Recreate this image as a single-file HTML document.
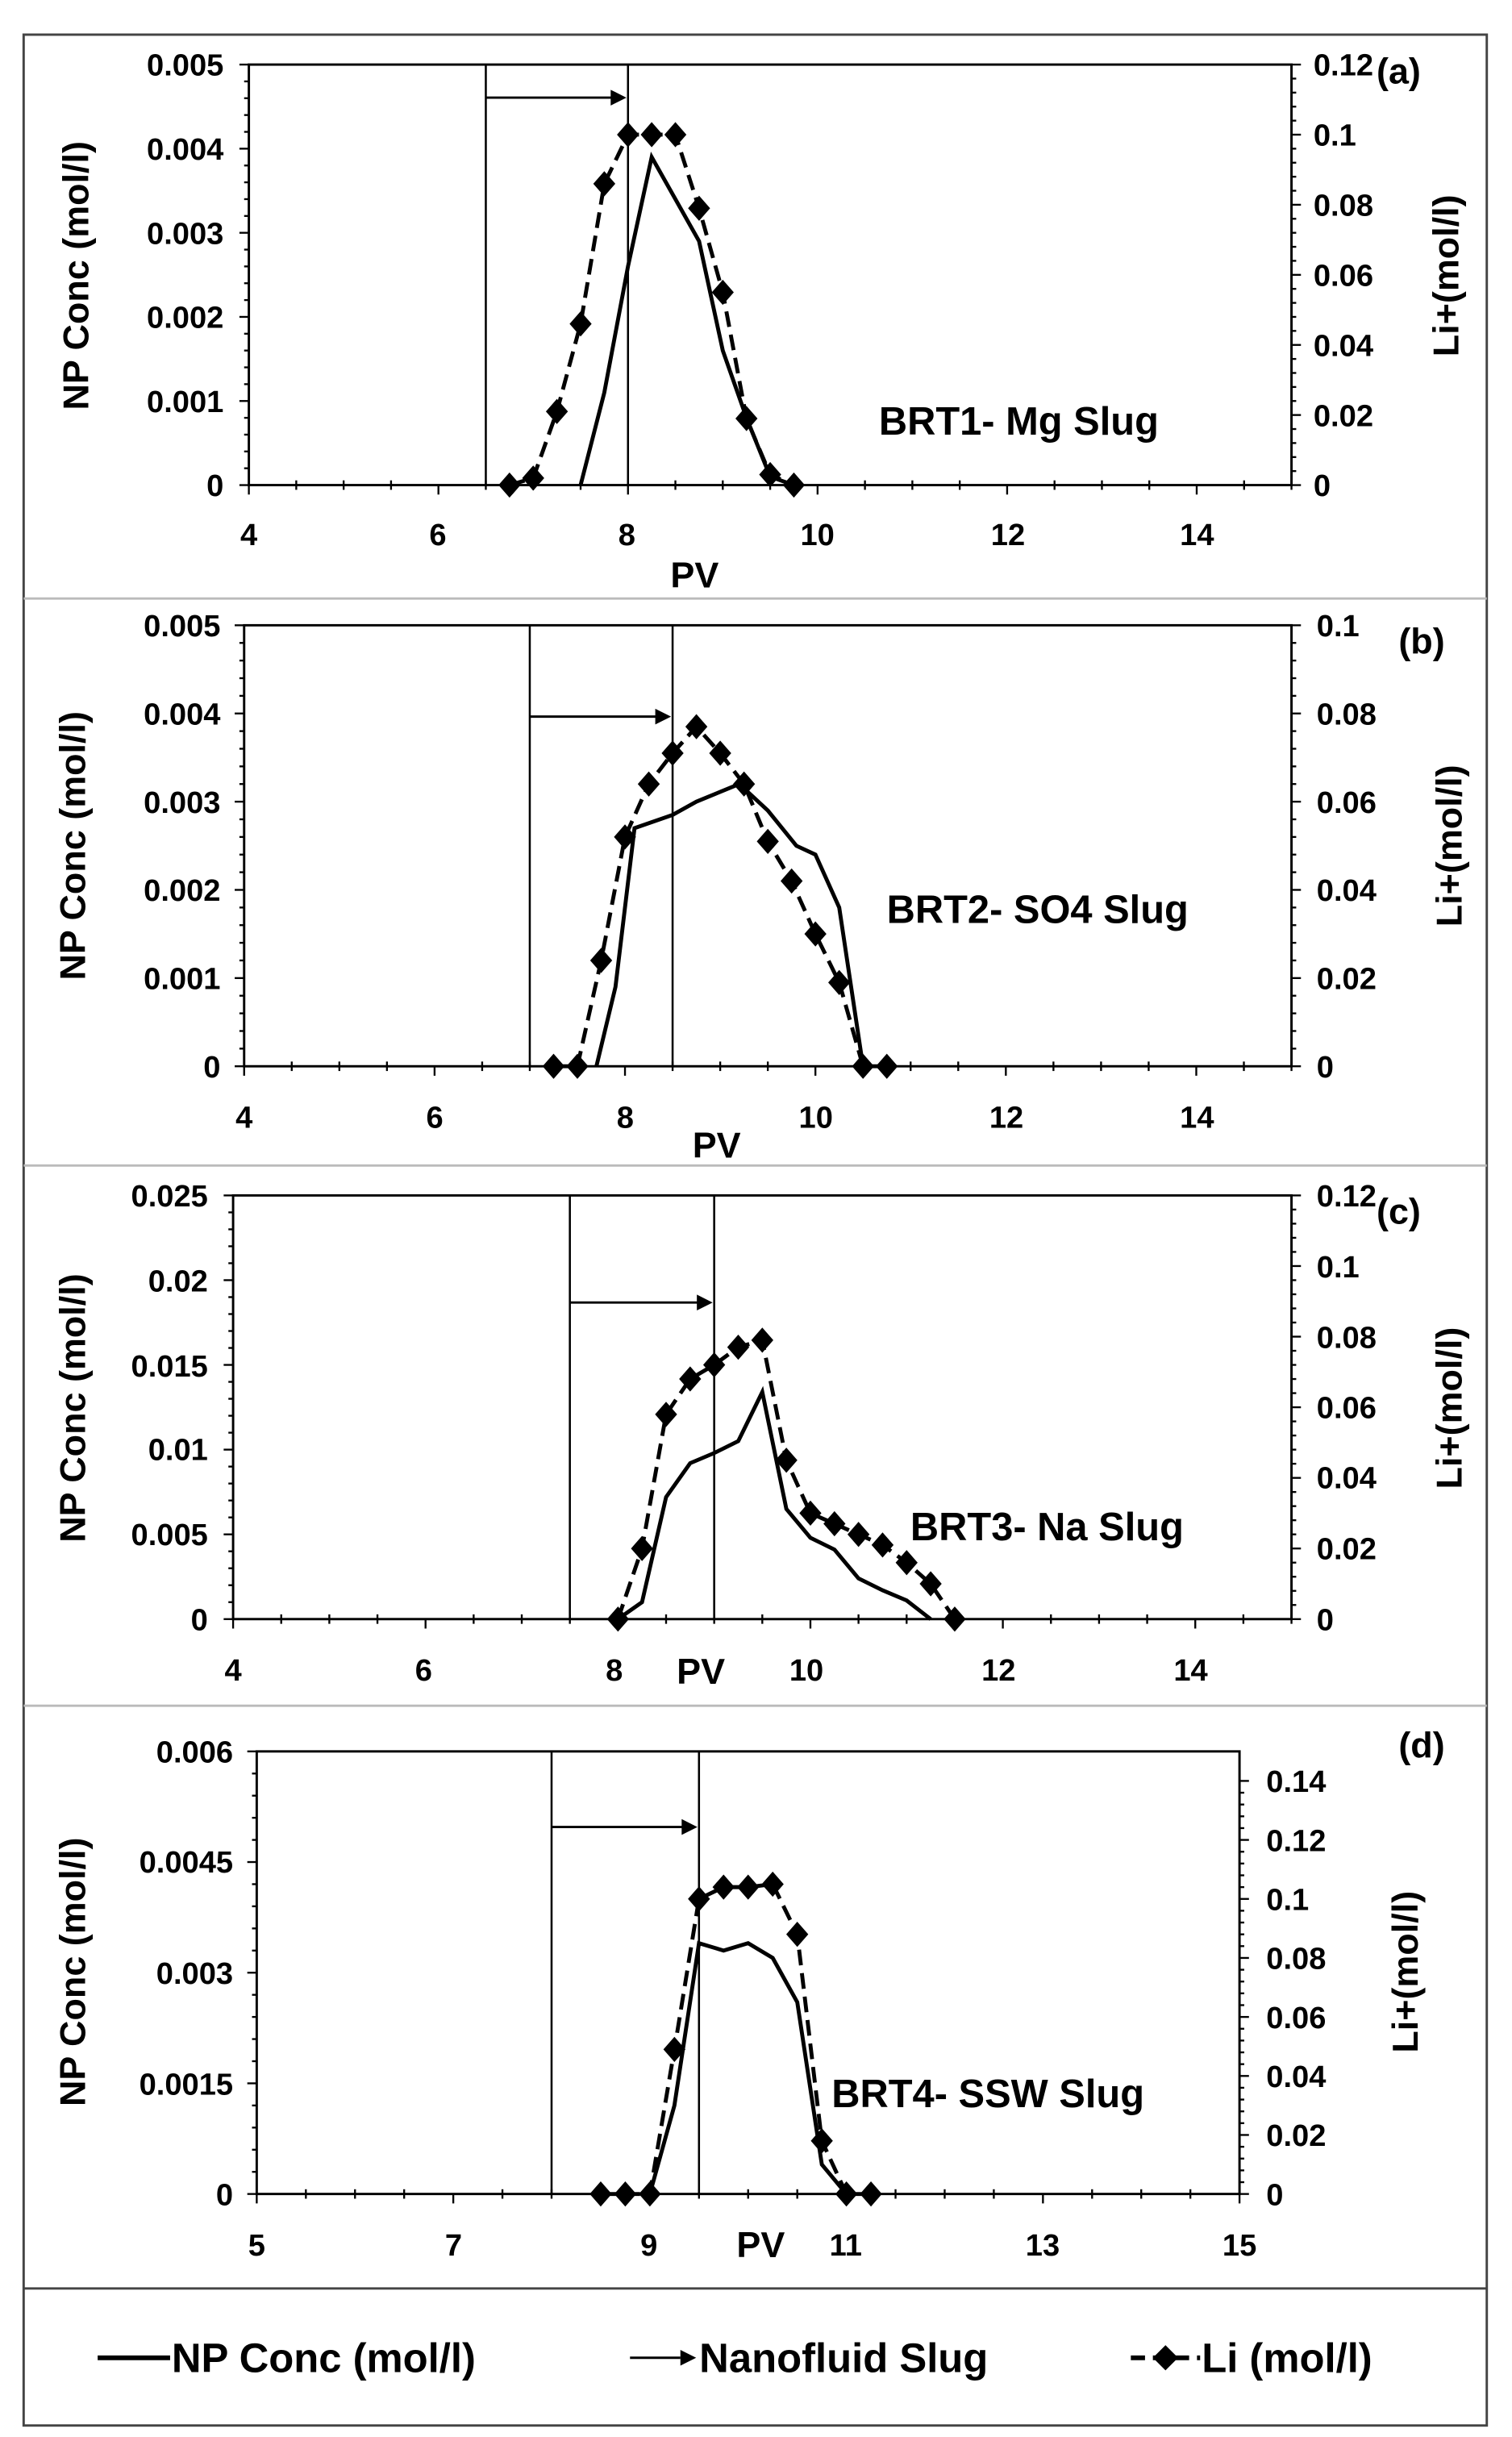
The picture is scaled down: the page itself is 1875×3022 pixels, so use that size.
<!DOCTYPE html>
<html><head><meta charset="utf-8"><style>
html,body{margin:0;padding:0;background:#fff}
svg{display:block}
text{font-family:"Liberation Sans",Arial,sans-serif;font-weight:bold;fill:#000}
.t{font-size:19.5px}
.ti{font-size:23px}
.lb{font-size:25px}
.lg{font-size:26px}
</style></head><body>
<svg id="s" width="1875" height="3022" viewBox="0 0 960 1547.3" xmlns="http://www.w3.org/2000/svg">
<rect x="0" y="0" width="960" height="1548" fill="#fff"/>
<rect x="15" y="22" width="929" height="1518" fill="none" stroke="#444" stroke-width="1.5"/>
<line x1="15" y1="380" x2="944" y2="380" stroke="#bbb" stroke-width="1.5"/>
<line x1="15" y1="740" x2="944" y2="740" stroke="#bbb" stroke-width="1.5"/>
<line x1="15" y1="1083" x2="944" y2="1083" stroke="#bbb" stroke-width="1.5"/>
<line x1="15" y1="1453" x2="944" y2="1453" stroke="#444" stroke-width="1.5"/>
<g id="g"></g>
<!-- Panel a text -->
<g class="t" text-anchor="end">
<text x="142" y="315">0</text><text x="142" y="261.6">0.001</text><text x="142" y="208.2">0.002</text><text x="142" y="154.8">0.003</text><text x="142" y="101.4">0.004</text><text x="142" y="48">0.005</text>
</g>
<g class="t" text-anchor="start">
<text x="834" y="315">0</text><text x="834" y="270.5">0.02</text><text x="834" y="226">0.04</text><text x="834" y="181.5">0.06</text><text x="834" y="137">0.08</text><text x="834" y="92.5">0.1</text><text x="834" y="48">0.12</text>
</g>
<g class="t" text-anchor="middle">
<text x="158" y="346">4</text><text x="278" y="346">6</text><text x="398" y="346">8</text><text x="519" y="346">10</text><text x="640" y="346">12</text><text x="760" y="346">14</text>
</g>
<text class="ti" x="441" y="373" text-anchor="middle">PV</text>
<text class="ti" x="0" y="0" text-anchor="middle" transform="translate(56,175) rotate(-90)">NP Conc (mol/l)</text>
<text class="ti" x="0" y="0" text-anchor="middle" transform="translate(926,175) rotate(-90)">Li+(mol/l)</text>
<text class="lb" x="558" y="276">BRT1- Mg Slug</text>
<text class="ti" x="874" y="53">(a)</text>
<!-- Panel b -->
<g class="t" text-anchor="end">
<text x="140" y="684">0</text><text x="140" y="628">0.001</text><text x="140" y="572">0.002</text><text x="140" y="516">0.003</text><text x="140" y="460">0.004</text><text x="140" y="404">0.005</text>
</g>
<g class="t" text-anchor="start">
<text x="836" y="684">0</text><text x="836" y="628">0.02</text><text x="836" y="572">0.04</text><text x="836" y="516">0.06</text><text x="836" y="460">0.08</text><text x="836" y="404">0.1</text>
</g>
<g class="t" text-anchor="middle">
<text x="155" y="716">4</text><text x="276" y="716">6</text><text x="397" y="716">8</text><text x="518" y="716">10</text><text x="639" y="716">12</text><text x="760" y="716">14</text>
</g>
<text class="ti" x="455" y="735" text-anchor="middle">PV</text>
<text class="ti" x="0" y="0" text-anchor="middle" transform="translate(54,537) rotate(-90)">NP Conc (mol/l)</text>
<text class="ti" x="0" y="0" text-anchor="middle" transform="translate(928,537) rotate(-90)">Li+(mol/l)</text>
<text class="lb" x="563" y="586">BRT2- SO4 Slug</text>
<text class="ti" x="888" y="415">(b)</text>
<!-- Panel c -->
<g class="t" text-anchor="end">
<text x="132" y="1035">0</text><text x="132" y="981">0.005</text><text x="132" y="927">0.01</text><text x="132" y="874">0.015</text><text x="132" y="820">0.02</text><text x="132" y="766">0.025</text>
</g>
<g class="t" text-anchor="start">
<text x="836" y="1035">0</text><text x="836" y="990">0.02</text><text x="836" y="945">0.04</text><text x="836" y="900.5">0.06</text><text x="836" y="855.7">0.08</text><text x="836" y="811">0.1</text><text x="836" y="766">0.12</text>
</g>
<g class="t" text-anchor="middle">
<text x="148" y="1067">4</text><text x="269" y="1067">6</text><text x="390" y="1067">8</text><text x="512" y="1067">10</text><text x="634" y="1067">12</text><text x="756" y="1067">14</text>
</g>
<text class="ti" x="445" y="1069" text-anchor="middle">PV</text>
<text class="ti" x="0" y="0" text-anchor="middle" transform="translate(54,894) rotate(-90)">NP Conc (mol/l)</text>
<text class="ti" x="0" y="0" text-anchor="middle" transform="translate(928,894) rotate(-90)">Li+(mol/l)</text>
<text class="lb" x="578" y="978">BRT3- Na Slug</text>
<text class="ti" x="874" y="777">(c)</text>
<!-- Panel d -->
<g class="t" text-anchor="end">
<text x="148" y="1400">0</text><text x="148" y="1330">0.0015</text><text x="148" y="1259.5">0.003</text><text x="148" y="1189">0.0045</text><text x="148" y="1119">0.006</text>
</g>
<g class="t" text-anchor="start">
<text x="804" y="1400">0</text><text x="804" y="1362.5">0.02</text><text x="804" y="1325">0.04</text><text x="804" y="1287.6">0.06</text><text x="804" y="1250">0.08</text><text x="804" y="1212.7">0.1</text><text x="804" y="1175.2">0.12</text><text x="804" y="1137.7">0.14</text>
</g>
<g class="t" text-anchor="middle">
<text x="163" y="1432">5</text><text x="288" y="1432">7</text><text x="412" y="1432">9</text><text x="537" y="1432">11</text><text x="662" y="1432">13</text><text x="787" y="1432">15</text>
</g>
<text class="ti" x="483" y="1433" text-anchor="middle">PV</text>
<text class="ti" x="0" y="0" text-anchor="middle" transform="translate(54,1252) rotate(-90)">NP Conc (mol/l)</text>
<text class="ti" x="0" y="0" text-anchor="middle" transform="translate(900,1252) rotate(-90)">Li+(mol/l)</text>
<text class="lb" x="528" y="1338">BRT4- SSW Slug</text>
<text class="ti" x="888" y="1116">(d)</text>
<!-- Legend -->
<line x1="62" y1="1497" x2="108" y2="1497" stroke="#000" stroke-width="3"/>
<text class="lg" x="109" y="1506">NP Conc (mol/l)</text>
<line x1="400" y1="1497" x2="432" y2="1497" stroke="#000" stroke-width="1.5"/>
<polygon points="432,1492 442,1497 432,1502" fill="#000"/>
<text class="lg" x="444" y="1506">Nanofluid Slug</text>
<line x1="718" y1="1497" x2="762" y2="1497" stroke="#000" stroke-width="3" stroke-dasharray="9,5"/>
<polygon points="740,1489 748,1497 740,1505 732,1497" fill="#000"/>
<text class="lg" x="763" y="1506">Li (mol/l)</text>
</svg>
<script>
var g=document.getElementById('g'),NS='http://www.w3.org/2000/svg';
function el(n,a){var e=document.createElementNS(NS,n);for(var k in a)e.setAttribute(k,a[k]);g.appendChild(e);return e;}
function panel(p){
 var X=function(v){return p.L+(v-p.x0)/(p.x1-p.x0)*(p.R-p.L)};
 var YL=function(v){return p.B-v/p.ymax*(p.B-p.T)};
 var YR=function(v){return p.B-v/p.rmax*(p.B-p.T)};
 el('rect',{x:p.L,y:p.T,width:p.R-p.L,height:p.B-p.T,fill:'none',stroke:'#000','stroke-width':1.5});
 for(var v=p.x0;v<=p.x1+1e-9;v+=0.5){var maj=Math.abs((v-p.x0)/p.xs-Math.round((v-p.x0)/p.xs))<1e-6;
  el('line',{x1:X(v),x2:X(v),y1:p.B-(maj?0:3),y2:p.B+(maj?6:3),stroke:'#000','stroke-width':1.2});}
 for(var i=0;i<=p.nl*5;i++){var y=p.B-i*(p.B-p.T)/(p.nl*5);var maj=i%5==0;
  el('line',{x1:p.L-(maj?6:3),x2:p.L,y1:y,y2:y,stroke:'#000','stroke-width':1.2});}
 for(var i=0;i<=p.nr*5;i++){var y=p.B-i*(p.B-p.T)/(p.nr*5)*(p.rfrac||1);var maj=i%5==0;if(y<p.T-0.5)continue;
  el('line',{x1:p.R,x2:p.R+(maj?6:3),y1:y,y2:y,stroke:'#000','stroke-width':1.2});}
 el('line',{x1:X(p.s0),x2:X(p.s0),y1:p.T,y2:p.B,stroke:'#000','stroke-width':1.3});
 el('line',{x1:X(p.s1),x2:X(p.s1),y1:p.T,y2:p.B,stroke:'#000','stroke-width':1.3});
 el('line',{x1:X(p.s0),x2:X(p.s1)-10,y1:p.ay,y2:p.ay,stroke:'#000','stroke-width':1.5});
 el('polygon',{points:(X(p.s1)-11)+','+(p.ay-5)+' '+(X(p.s1)-1)+','+p.ay+' '+(X(p.s1)-11)+','+(p.ay+5),fill:'#000'});
 el('polyline',{points:p.np.map(function(d){return X(d[0])+','+YL(d[1])}).join(' '),fill:'none',stroke:'#000','stroke-width':2.5});
 el('polyline',{points:p.li.map(function(d){return X(d[0])+','+YR(d[1])}).join(' '),fill:'none',stroke:'#000','stroke-width':2.5,'stroke-dasharray':'10,5'});
 p.li.forEach(function(d){var x=X(d[0]),y=YR(d[1]);el('polygon',{points:x+','+(y-8)+' '+(x+7)+','+y+' '+x+','+(y+8)+' '+(x-7)+','+y,fill:'#000'});});
}
panel({L:158,R:820,T:41,B:308,x0:4,x1:15,xs:2,ymax:0.005,rmax:0.12,nl:5,nr:6,s0:6.5,s1:8,ay:62,
 li:[[6.75,0],[7,0.002],[7.25,0.021],[7.5,0.046],[7.75,0.086],[8,0.1],[8.25,0.1],[8.5,0.1],[8.75,0.079],[9,0.055],[9.25,0.019],[9.5,0.003],[9.75,0]],
 np:[[7.5,0],[7.75,0.0011],[8,0.0026],[8.25,0.0039],[8.5,0.0034],[8.75,0.0029],[9,0.0016],[9.25,0.0008],[9.5,0.0001],[9.75,0]]});
panel({L:155,R:820,T:397,B:677,x0:4,x1:15,xs:2,ymax:0.005,rmax:0.1,nl:5,nr:5,s0:7,s1:8.5,ay:455,
 li:[[7.25,0],[7.5,0],[7.75,0.024],[8,0.052],[8.25,0.064],[8.5,0.071],[8.75,0.077],[9,0.071],[9.25,0.064],[9.5,0.051],[9.75,0.042],[10,0.03],[10.25,0.019],[10.5,0],[10.75,0]],
 np:[[7.7,0],[7.9,0.0009],[8.1,0.0027],[8.5,0.00285],[8.75,0.003],[9.2,0.0032],[9.5,0.0029],[9.8,0.0025],[10,0.0024],[10.25,0.0018],[10.5,0]]});
panel({L:148,R:820,T:759,B:1028,x0:4,x1:15,xs:2,ymax:0.025,rmax:0.12,nl:5,nr:6,s0:7.5,s1:9,ay:827,
 li:[[8,0],[8.25,0.02],[8.5,0.058],[8.75,0.068],[9,0.072],[9.25,0.077],[9.5,0.079],[9.75,0.045],[10,0.03],[10.25,0.027],[10.5,0.024],[10.75,0.021],[11,0.016],[11.25,0.01],[11.5,0]],
 np:[[8,0],[8.25,0.001],[8.5,0.0072],[8.75,0.0092],[9,0.0098],[9.25,0.0105],[9.5,0.0134],[9.75,0.0065],[10,0.0048],[10.25,0.0041],[10.5,0.0024],[10.75,0.0017],[11,0.0011],[11.25,0]]});
panel({L:163,R:787,T:1112,B:1393,x0:5,x1:15,xs:2,ymax:0.006,rmax:0.15,nl:4,nr:7,rfrac:0.14/0.15,s0:8,s1:9.5,ay:1160,
 li:[[8.5,0],[8.75,0],[9,0],[9.25,0.049],[9.5,0.1],[9.75,0.104],[10,0.104],[10.25,0.105],[10.5,0.088],[10.75,0.018],[11,0],[11.25,0]],
 np:[[9,0],[9.25,0.0012],[9.5,0.0034],[9.75,0.0033],[10,0.0034],[10.25,0.0032],[10.5,0.0026],[10.75,0.0004],[11,0]]});
</script>
</body></html>
